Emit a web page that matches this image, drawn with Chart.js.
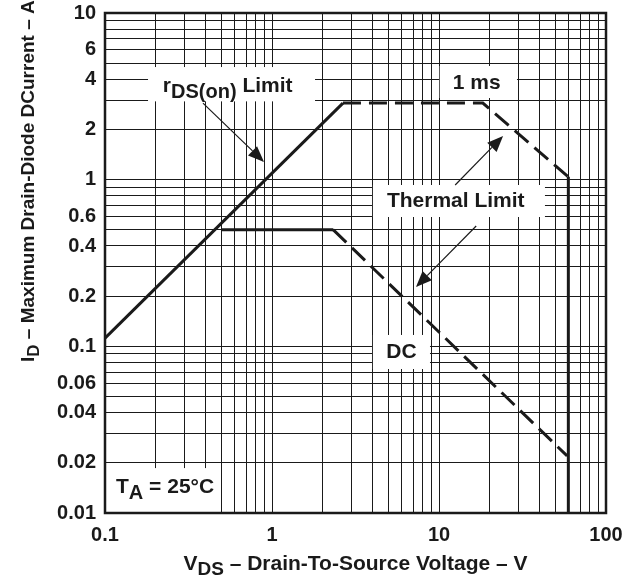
<!DOCTYPE html>
<html><head><meta charset="utf-8">
<script src="https://cdn.jsdelivr.net/npm/chart.js@4.4.1/dist/chart.umd.min.js"></script>
<style>html,body{margin:0;padding:0;background:#fff;}#wrap{width:632px;height:582px;}</style>
</head><body><div id="wrap"><canvas id="c" width="632" height="582"></canvas></div>
<script>
// ---- axis ranges and tick labels ----
const xRange = [0.1, 100];
const yRange = [0.01, 10];
const xTickLabels = [0.1, 1, 10, 100];
const yTickLabels = [0.01, 0.02, 0.04, 0.06, 0.1, 0.2, 0.4, 0.6, 1, 2, 4, 6, 10];

// ---- series (V_DS in V, I_D in A) ----
const rdsLimitV  = [0.1, 2.66];
const rdsLimitI  = [0.112, 2.88];
const pulse1msV  = [2.66, 18.3, 59.5];
const pulse1msI  = [2.88, 2.88, 1.04];
const bvLimitV   = [59.5, 59.5];
const bvLimitI   = [1.04, 0.01];
const dcFlatV    = [0.5, 2.33];
const dcFlatI    = [0.5, 0.5];
const dcThermalV = [2.33, 58.5];
const dcThermalI = [0.5, 0.022];

// ---- annotation boxes / labels / arrows (data coordinates) ----
const boxes = [
  {x0:0.181, x1:1.81, y0:2.95, y1:4.74},   // rDS(on) Limit
  {x0:10.1, x1:29.3, y0:3.09, y1:4.81},    // 1 ms
  {x0:4.02, x1:43.1, y0:0.597, y1:0.929},  // Thermal Limit
  {x0:4.02, x1:8.83, y0:0.0731, y1:0.117}, // DC
  {x0:0.1, x1:0.489, y0:0.01, y1:0.0186}   // TA
];
const labels = [
  {x:0.222, y:3.36, align:'left', parts:[{t:'r'},{t:'DS(on)',sub:true},{t:' Limit'}]},
  {x:16.8, y:3.50, align:'center', parts:[{t:'1 ms'}]},
  {x:12.6, y:0.686, align:'center', parts:[{t:'Thermal Limit'}]},
  {x:5.96, y:0.0851, align:'center', parts:[{t:'DC'}]},
  {x:0.1164, y:0.0132, align:'left', parts:[{t:'T'},{t:'A',sub:true},{t:' = 25°C'}]}
];
const arrows = [
  {fx:0.386, fy:2.88, tx:0.896, ty:1.276},
  {fx:12.5, fy:0.929, tx:24.2, ty:1.83},
  {fx:16.7, fy:0.527, tx:7.28, ty:0.227}
];

const FONT = '"Liberation Sans", Arial, Helvetica, sans-serif';
const INK = '#1a1a1a';

function pts(xs, ys){ return xs.map((v,i)=>({x:v, y:ys[i]})); }
function decadeGrid(min, max){
  const out=[];
  for(let e=Math.round(Math.log10(min)); e<=Math.round(Math.log10(max)); e++){
    for(let m=1;m<=9;m++){
      const v = parseFloat((m*Math.pow(10,e)).toPrecision(6));
      if(v>=min-1e-12 && v<=max+1e-12) out.push(v);
    }
  }
  return out;
}
function fmt(v){ return parseFloat(v.toPrecision(6)); }

function drawRich(ctx, parts, x, y, align, size, subSize, subDy){
  const w = parts.map(p=>{ ctx.font = `bold ${p.sub?subSize:size}px ${FONT}`; return ctx.measureText(p.t).width; });
  const total = w.reduce((a,b)=>a+b,0);
  let cx = align==='center' ? x-total/2 : x;
  ctx.textBaseline='alphabetic'; ctx.textAlign='left'; ctx.fillStyle=INK;
  parts.forEach((p,i)=>{
    ctx.font = `bold ${p.sub?subSize:size}px ${FONT}`;
    ctx.fillText(p.t, cx, y + (p.sub?subDy:0));
    cx += w[i];
  });
}

const annotPlugin = {
  id:'annot',
  beforeDatasetsDraw(chart){
    const ctx=chart.ctx, xs=chart.scales.x, ys=chart.scales.y;
    ctx.save(); ctx.fillStyle='#fff';
    boxes.forEach(b=>{
      const x0=xs.getPixelForValue(b.x0), x1=xs.getPixelForValue(b.x1);
      const y0=ys.getPixelForValue(b.y0), y1=ys.getPixelForValue(b.y1);
      ctx.fillRect(Math.min(x0,x1), Math.min(y0,y1), Math.abs(x1-x0), Math.abs(y1-y0));
    });
    ctx.restore();
  },
  afterDatasetsDraw(chart){
    const ctx=chart.ctx, xs=chart.scales.x, ys=chart.scales.y, a=chart.chartArea;
    ctx.save();
    ctx.strokeStyle=INK; ctx.lineWidth=2.5;
    ctx.strokeRect(a.left, a.top, a.right-a.left, a.bottom-a.top);
    labels.forEach(l=>{
      drawRich(ctx, l.parts, xs.getPixelForValue(l.x), ys.getPixelForValue(l.y), l.align, 21, 20, 6);
    });
    arrows.forEach(r=>{
      const fx=xs.getPixelForValue(r.fx), fy=ys.getPixelForValue(r.fy);
      const tx=xs.getPixelForValue(r.tx), ty=ys.getPixelForValue(r.ty);
      const ang=Math.atan2(ty-fy, tx-fx), L=16, H=6.5;
      const bx=tx-L*Math.cos(ang), by=ty-L*Math.sin(ang);
      ctx.strokeStyle=INK; ctx.lineWidth=1.2;
      ctx.beginPath(); ctx.moveTo(fx,fy); ctx.lineTo(bx,by); ctx.stroke();
      ctx.fillStyle=INK; ctx.beginPath();
      ctx.moveTo(tx,ty);
      ctx.lineTo(bx+H*Math.sin(ang), by-H*Math.cos(ang));
      ctx.lineTo(bx-H*Math.sin(ang), by+H*Math.cos(ang));
      ctx.closePath(); ctx.fill();
    });
    ctx.restore();
  },
  afterDraw(chart){
    const ctx=chart.ctx, a=chart.chartArea;
    ctx.save();
    drawRich(ctx, [{t:'V'},{t:'DS',sub:true},{t:' – Drain-To-Source Voltage – V'}], (a.left+a.right)/2, 570, 'center', 21, 19, 5);
    ctx.translate(34, 362); ctx.rotate(-Math.PI/2);
    drawRich(ctx, [{t:'I'},{t:'D',sub:true},{t:' – Maximum Drain-Diode DCurrent – A'}], 0, 0, 'left', 19, 17, 5);
    ctx.restore();
  }
};

const lineStyle = (dash)=>({borderColor:INK, borderWidth:3, borderDash:dash, pointRadius:0, showLine:true, fill:false, tension:0, borderCapStyle:'butt', borderJoinStyle:'miter'});

new Chart(document.getElementById('c'), {
  type:'scatter',
  data:{ datasets:[
    Object.assign({label:'rDS(on) Limit', data:pts(rdsLimitV, rdsLimitI)}, lineStyle([])),
    Object.assign({label:'1 ms', data:pts(pulse1msV, pulse1msI)}, lineStyle([18,8])),
    Object.assign({label:'V(BR) limit', data:pts(bvLimitV, bvLimitI)}, lineStyle([])),
    Object.assign({label:'DC', data:pts(dcFlatV, dcFlatI)}, lineStyle([])),
    Object.assign({label:'DC thermal', data:pts(dcThermalV, dcThermalI)}, lineStyle([18,8]))
  ]},
  options:{
    responsive:false, animation:false, devicePixelRatio:1,
    layout:{padding:{left:0, right:26, top:13, bottom:0}},
    plugins:{legend:{display:false}, tooltip:{enabled:false}},
    scales:{
      x:{ type:'logarithmic', min:xRange[0], max:xRange[1],
        afterBuildTicks(s){ s.ticks = decadeGrid(xRange[0], xRange[1]).map(v=>({value:v})); },
        afterFit(s){ s.height = 69; s.paddingLeft = 0; s.paddingRight = 0; },
        grid:{color:INK, lineWidth:1, drawTicks:false},
        border:{display:false},
        ticks:{ autoSkip:false, maxRotation:0, padding:10, color:INK,
          font:{family:FONT, size:20, weight:'bold'},
          callback(v){ const f=fmt(v); return xTickLabels.includes(f) ? String(f) : ''; } }
      },
      y:{ type:'logarithmic', min:yRange[0], max:yRange[1],
        afterBuildTicks(s){ s.ticks = decadeGrid(yRange[0], yRange[1]).map(v=>({value:v})); },
        afterFit(s){ s.width = 105; s.paddingTop = 0; s.paddingBottom = 0; },
        grid:{color:INK, lineWidth:1, drawTicks:false},
        border:{display:false},
        ticks:{ autoSkip:false, padding:9, color:INK,
          font:{family:FONT, size:20, weight:'bold'},
          callback(v){ const f=fmt(v); return yTickLabels.includes(f) ? String(f) : ''; } }
      }
    }
  },
  plugins:[annotPlugin]
});
</script></body></html>
